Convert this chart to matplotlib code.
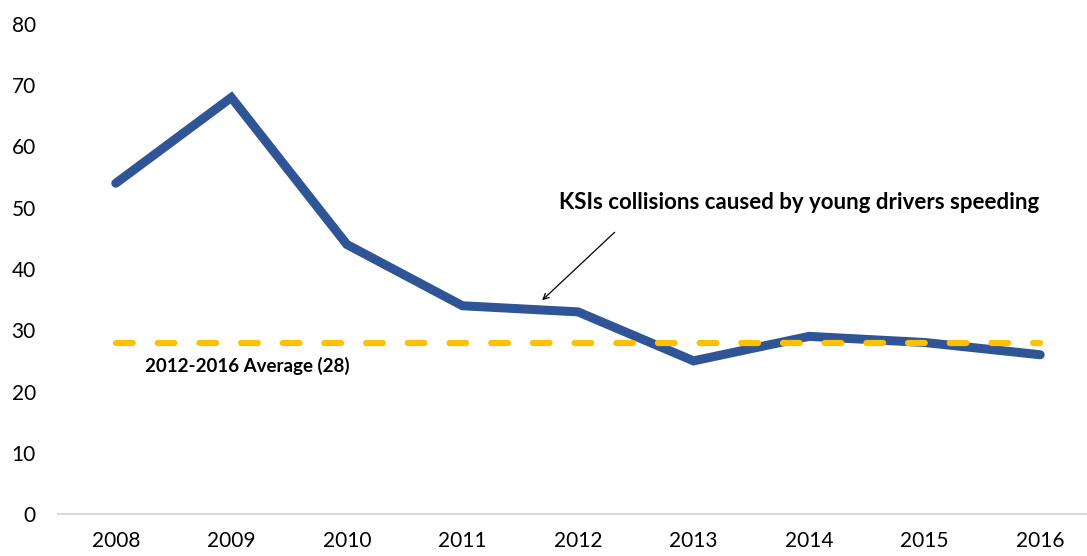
import matplotlib
matplotlib.use("Agg")
import matplotlib.pyplot as plt

plt.rcParams['font.family'] = ['Lato', 'DejaVu Sans']

years = ['2008', '2009', '2010', '2011', '2012', '2013', '2014', '2015', '2016']
ksi = [54, 68, 44, 34, 33, 25, 29, 28, 26]
average = [28] * len(years)
yticks = [0, 10, 20, 30, 40, 50, 60, 70, 80]

fig = plt.figure(figsize=(10.87, 5.56), dpi=100)
ax = fig.add_axes([58/1087, 42/556, (1098-58)/1087, (514-24)/556])

x = list(range(len(years)))
ax.plot(x, ksi, color='#2F5597', lw=6.5, solid_capstyle='round', solid_joinstyle='miter', zorder=2)
ln, = ax.plot(x, average, color='#FFC000', lw=4.5, dash_capstyle='round', zorder=3)
ln.set_dashes([2.67, 4.0])

ax.set_xlim(-0.5, len(years) - 0.5)
ax.set_ylim(0, 80)
ax.set_xticks(x)
ax.set_xticklabels(years)
ax.set_yticks(yticks)
ax.set_yticklabels([str(v) for v in yticks])
ax.tick_params(axis='both', length=0, labelsize=15, colors='black')
ax.tick_params(axis='x', pad=12)
ax.tick_params(axis='y', pad=16)
for s in ['top', 'right', 'left']:
    ax.spines[s].set_visible(False)
ax.spines['bottom'].set_color('#D9D9D9')
ax.spines['bottom'].set_linewidth(1.5)

ax.text(5.91, 50.8, 'KSIs collisions caused by young drivers speeding',
        ha='center', va='center', fontsize=16, fontweight='bold')
ax.annotate('', xy=(3.69, 34.9), xycoords='data',
            xytext=(4.317, 46.0), textcoords='data',
            arrowprops=dict(arrowstyle='->', color='black', lw=0.9,
                            shrinkA=0, shrinkB=0))
ax.text(0.25, 24.2, '2012-2016 Average (28)', fontsize=13.5, fontweight='bold',
        ha='left', va='center')

fig.savefig('out.png', dpi=100)
